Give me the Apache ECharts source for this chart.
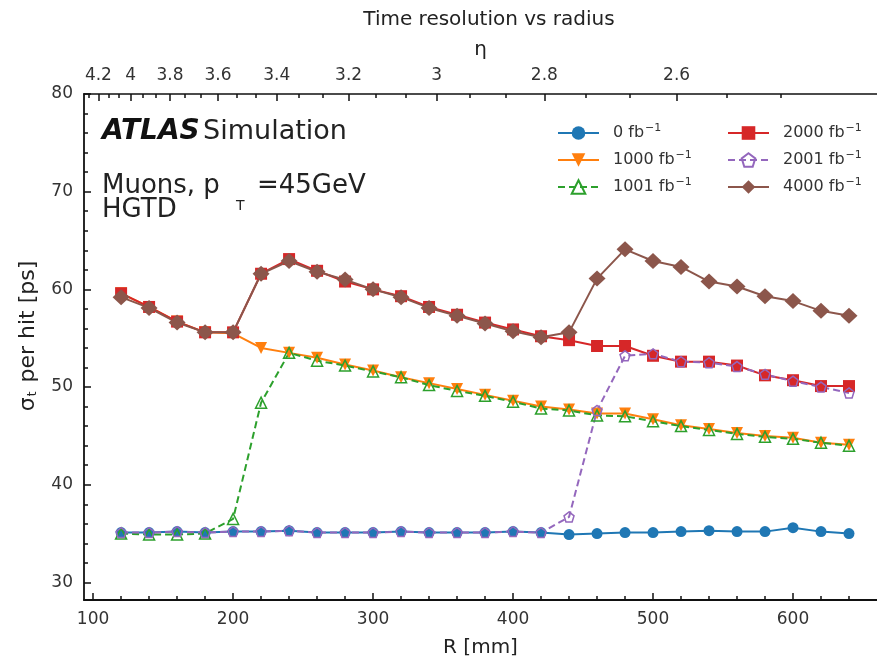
<!DOCTYPE html>
<html>
<head>
<meta charset="utf-8">
<script src="https://cdn.jsdelivr.net/npm/echarts@6/dist/echarts.min.js"></script>
<style>html,body{margin:0;padding:0;background:#fff;}#c{width:877px;height:663px;}</style>
</head>
<body>
<div id="c"></div>
<script>
// ---- data ----
var radius = [120,140,160,180,200,220,240,260,280,300,320,340,360,380,400,420,440,460,480,500,520,540,560,580,600,620,640];
var s0    = [35.1,35.1,35.2,35.1,35.2,35.2,35.3,35.1,35.1,35.1,35.2,35.1,35.1,35.1,35.2,35.1,34.9,35.0,35.1,35.1,35.2,35.3,35.2,35.2,35.6,35.2,35.0];
var s1000 = [59.6,58.2,56.7,55.6,55.5,54.0,53.5,53.0,52.3,51.7,51.0,50.4,49.8,49.2,48.6,48.0,47.7,47.3,47.3,46.7,46.1,45.7,45.3,45.0,44.8,44.3,44.1];
var s1001 = [35.0,34.9,34.9,35.0,36.5,48.4,53.5,52.7,52.2,51.6,51.0,50.2,49.6,49.1,48.5,47.8,47.6,47.1,47.0,46.5,46.0,45.6,45.2,44.9,44.7,44.3,44.0];
var s2000 = [59.6,58.2,56.7,55.6,55.6,61.6,63.1,61.9,60.8,60.0,59.3,58.2,57.4,56.6,55.9,55.2,54.8,54.2,54.2,53.2,52.6,52.6,52.2,51.2,50.7,50.1,50.1];
var s2001 = [35.1,35.1,35.2,35.1,35.2,35.2,35.3,35.1,35.1,35.1,35.2,35.1,35.1,35.1,35.2,35.1,36.7,47.6,53.2,53.4,52.6,52.5,52.1,51.3,50.6,50.0,49.4];
var s4000 = [59.2,58.1,56.6,55.6,55.6,61.6,62.9,61.8,61.0,60.0,59.2,58.1,57.3,56.5,55.7,55.1,55.6,61.1,64.1,62.9,62.3,60.8,60.3,59.3,58.8,57.8,57.3];
var seriesNames = ['0','1000','1001','2000','2001','4000'];
var xMajorTicks = [100,200,300,400,500,600];
var yMajorTicks = [30,40,50,60,70,80];
var etaLabels = [4.2,4,3.8,3.6,3.4,3.2,3,2.8,2.6];
var HGTD_Z = 3460; // mm, used to map eta to radius
// ---- helpers ----
function etaToR(eta){ return HGTD_Z * Math.tan(2*Math.atan(Math.exp(-eta))); }
function pairs(ys){ return radius.map(function(r,i){ return [r, ys[i]]; }); }
var X_MIN = 93.5, X_MAX = 660, Y_MIN = 28.2, Y_MAX = 80;
var etaMajorR = etaLabels.map(etaToR);
var etaMinorR = [];
for (var k = 0; k < 40; k++) {
  var e = 4.4 - k * 0.2 / 3;
  if (k % 3 === 0) continue;
  var r = etaToR(e);
  if (r > X_MIN && r < X_MAX) etaMinorR.push(r);
}
var xMinor = []; for (var v = 100; v <= 640; v += 20) xMinor.push(v);
var yMinor = []; for (var w = 30; w <= 80; w += 2) yMinor.push(w);

var FONT = 'DejaVu Sans, Liberation Sans, sans-serif';
var AX = {color:'#111', width:1.8};
function legendFmt(n){ return '{a|' + n + ' fb}{s|\u22121}'; }
var legendRich = { a:{fontSize:16, color:'#333', fontFamily:FONT, padding:[0,0,0,9]}, s:{fontSize:11, color:'#333', fontFamily:FONT, padding:[0,0,9,1]} };

var chart = echarts.init(document.getElementById('c'), null, {renderer:'canvas'});
var option = {
  animation:false,
  backgroundColor:'#fff',
  title:{ text:'Time resolution vs radius', left:484, textAlign:'center', top:5,
    textStyle:{fontFamily:FONT, fontSize:20, fontWeight:'normal', color:'#222'} },
  grid:{ left:84, right:0, top:94, bottom:63, containLabel:false },
  legend:[
    { data:['0','1000','1001'], left:552, top:118, padding:5, orient:'vertical', itemWidth:41, itemHeight:17, itemGap:9,
      formatter:legendFmt, textStyle:{rich:legendRich}, selectedMode:false },
    { data:['2000','2001','4000'], left:722, top:118, padding:5, orient:'vertical', itemWidth:41, itemHeight:17, itemGap:9,
      formatter:legendFmt, textStyle:{rich:legendRich}, selectedMode:false }
  ],
  xAxis:[
    { type:'value', position:'bottom', min:X_MIN, max:X_MAX,
      name:'R [mm]', nameLocation:'middle', nameGap:38,
      nameTextStyle:{fontFamily:FONT, fontSize:20, color:'#222'},
      axisLine:{lineStyle:AX}, splitLine:{show:false},
      axisTick:{inside:true, length:7, customValues:xMajorTicks, lineStyle:{color:'#111', width:1.5}},
      axisLabel:{customValues:xMajorTicks, fontFamily:FONT, fontSize:17, color:'#333', margin:11} },
    { type:'value', position:'bottom', min:X_MIN, max:X_MAX,
      axisLine:{show:false}, splitLine:{show:false},
      axisTick:{inside:true, length:4, customValues:xMinor, lineStyle:{color:'#111', width:1.5}},
      axisLabel:{show:false} },
    { type:'value', position:'top', min:X_MIN, max:X_MAX,
      name:'\u03b7', nameLocation:'middle', nameGap:34,
      nameTextStyle:{fontFamily:FONT, fontSize:20, color:'#222'},
      axisLine:{lineStyle:{color:'#111', width:1.5}}, splitLine:{show:false},
      axisTick:{inside:true, length:7, customValues:etaMajorR, lineStyle:{color:'#111', width:1.5}},
      axisLabel:{customValues:etaMajorR, fontFamily:FONT, fontSize:17, color:'#333', margin:10,
        formatter:function(val){
          for (var i=0;i<etaMajorR.length;i++){ if (Math.abs(etaMajorR[i]-val) < 1e-6) return String(etaLabels[i]); }
          return '';
        } } },
    { type:'value', position:'top', min:X_MIN, max:X_MAX,
      axisLine:{show:false}, splitLine:{show:false},
      axisTick:{inside:true, length:4, customValues:etaMinorR, lineStyle:{color:'#111', width:1.5}},
      axisLabel:{show:false} }
  ],
  yAxis:[
    { type:'value', position:'left', min:Y_MIN, max:Y_MAX,
      name:'{a|\u03c3}{b|t}{a| per hit [ps]}', nameLocation:'middle', nameGap:45, nameRotate:90,
      nameTextStyle:{padding:[0,0,0,22], rich:{a:{fontFamily:FONT, fontSize:22, color:'#222'}, b:{fontFamily:FONT, fontSize:12, color:'#222', padding:[10,2,0,1]}}},
      axisLine:{lineStyle:AX}, splitLine:{show:false},
      axisTick:{inside:true, length:7, customValues:yMajorTicks, lineStyle:{color:'#111', width:1.5}},
      axisLabel:{customValues:yMajorTicks, fontFamily:FONT, fontSize:17, color:'#333', margin:11} },
    { type:'value', position:'left', min:Y_MIN, max:Y_MAX,
      axisLine:{show:false}, splitLine:{show:false},
      axisTick:{inside:true, length:4, customValues:yMinor, lineStyle:{color:'#111', width:1.5}},
      axisLabel:{show:false} }
  ],
  graphic:[
    { type:'text', x:102, y:132, style:{
        text:'{b|ATLAS} {n|Simulation}', verticalAlign:'middle',
        rich:{ b:{fontFamily:FONT, fontSize:28, fontWeight:'bold', fontStyle:'italic', fill:'#111'},
               n:{fontFamily:FONT, fontSize:27, fill:'#222'} } } },
    { type:'text', x:102, y:186, style:{ text:'Muons, p', verticalAlign:'middle', fontFamily:FONT, fontSize:26, fill:'#222' } },
    { type:'text', x:236, y:206, style:{ text:'T', verticalAlign:'middle', fontFamily:FONT, fontSize:14, fill:'#222' } },
    { type:'text', x:257, y:186, style:{ text:'=45GeV', verticalAlign:'middle', fontFamily:FONT, fontSize:26, fill:'#222' } },
    { type:'text', x:102, y:210, style:{ text:'HGTD', verticalAlign:'middle', fontFamily:FONT, fontSize:26, fill:'#222' } }
  ],
  series:[
    { name:'0', type:'line', data:pairs(s0), symbol:'circle', symbolSize:11,
      itemStyle:{color:'#1f77b4'}, lineStyle:{color:'#1f77b4', width:2} },
    { name:'1000', type:'line', data:pairs(s1000), symbol:'path://M-5,0 L5,0 L0,8.66 Z', symbolSize:12,
      itemStyle:{color:'#ff7f0e'}, lineStyle:{color:'#ff7f0e', width:2} },
    { name:'1001', type:'line', data:pairs(s1001), symbol:'path://M0,0 L5,8.66 L-5,8.66 Z', symbolSize:11,
      itemStyle:{color:'rgba(255,255,255,0)', borderColor:'#2ca02c', borderWidth:1.5},
      lineStyle:{color:'#2ca02c', width:2, type:[7,4]} },
    { name:'2000', type:'line', data:pairs(s2000), symbol:'rect', symbolSize:12,
      itemStyle:{color:'#d62728'}, lineStyle:{color:'#d62728', width:2} },
    { name:'2001', type:'line', data:pairs(s2001), symbol:'path://M0,-1 L0.951,-0.309 L0.588,0.809 L-0.588,0.809 L-0.951,-0.309 Z', symbolSize:10,
      itemStyle:{color:'rgba(255,255,255,0)', borderColor:'#9467bd', borderWidth:1.5},
      lineStyle:{color:'#9467bd', width:2, type:[7,4]} },
    { name:'4000', type:'line', data:pairs(s4000), symbol:'diamond', symbolSize:[17,16],
      itemStyle:{color:'#8c564b'}, lineStyle:{color:'#8c564b', width:2} }
  ]
};
option.series.forEach(function(s){ s.emphasis = {disabled:true}; s.xAxisIndex = 0; s.yAxisIndex = 0; s.clip = false; });
chart.setOption(option);
</script>
</body>
</html>
